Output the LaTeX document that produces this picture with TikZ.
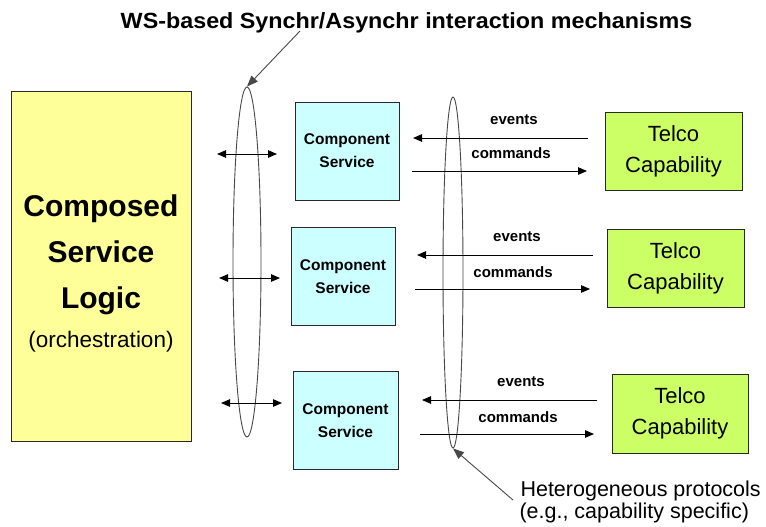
\documentclass[tikz,border=0pt]{standalone}
\usepackage{fontspec}
\setmainfont{Liberation Sans}
\usetikzlibrary{arrows.meta,shapes.geometric}
\definecolor{logicfill}{RGB}{255,255,153}
\definecolor{compfill}{RGB}{204,255,255}
\definecolor{telcofill}{RGB}{204,255,102}
\definecolor{edge}{RGB}{40,40,40}
\begin{document}
\begin{tikzpicture}[x=1pt,y=-1pt,
  box/.style={draw=edge,line width=1pt,inner sep=0pt,align=center},
  logicbox/.style={box,fill=logicfill,minimum width=180,minimum height=349},
  compbox/.style={box,fill=compfill,minimum width=104,minimum height=98,
    font=\fontsize{15.5}{23}\selectfont\bfseries},
  telcobox/.style={box,fill=telcofill,minimum width=137,minimum height=78,
    font=\fontsize{22}{32}\selectfont},
  ring/.style={draw=edge!85,line width=0.9pt,ellipse,inner sep=0pt},
  flow/.style={-{Triangle[length=9pt,width=7.5pt]},line width=0.9pt},
  both/.style={{Triangle[length=9pt,width=7.5pt]}-{Triangle[length=9pt,width=7.5pt]},line width=0.9pt},
  pointer/.style={-{Triangle[length=11pt,width=8.5pt]},draw=edge!85,line width=0.9pt},
  flowlabel/.style={font=\fontsize{15}{18}\selectfont\bfseries,anchor=center},
  biglabel/.style={font=\fontsize{30}{36}\selectfont\bfseries,anchor=base},
  note/.style={font=\fontsize{21.5}{22}\selectfont,anchor=base west}]
\useasboundingbox (0,0) rectangle (766,527);

% heading
\node[anchor=base,font=\fontsize{22}{26}\selectfont\bfseries] (heading) at (406.5,29)
  {\scalebox{1.06}[1]{WS-based Synchr/Asynchr interaction mechanisms}};

% orchestrating service
\node[logicbox] (logic) at (101,266.5) {};
\node[biglabel] (lt1) at (101,216) {Composed};
\node[biglabel] (lt2) at (101,262) {Service};
\node[biglabel] (lt3) at (101,308) {Logic};
\node[anchor=base,font=\fontsize{22.5}{26}\selectfont] (lt4) at (101,347) {(orchestration)};

% component services
\node[compbox] (comp1) at (347,151) {Component\\Service};
\node[compbox] (comp2) at (343,276.5) {Component\\Service};
\node[compbox,minimum width=105] (comp3) at (345.5,420.5) {Component\\Service};

% telco capabilities
\node[telcobox] (telco1) at (673.5,151) {\raisebox{-3pt}{Telco}\\\raisebox{-2pt}{Capability}};
\node[telcobox] (telco2) at (675.5,268) {\raisebox{-3pt}{Telco}\\\raisebox{-2pt}{Capability}};
\node[telcobox,minimum width=136,minimum height=79] (telco3) at (680,413.5) {\raisebox{-3pt}{Telco}\\\raisebox{-2pt}{Capability}};

% interaction rings
\node[ring,minimum width=28,minimum height=350] (wsring) at (247,262) {};
\node[ring,minimum width=20,minimum height=351] (protoring) at (453,272.5) {};

% WS interactions
\coordinate (ws1a) at (217,154); \coordinate (ws1b) at (277,154);
\coordinate (ws2a) at (219,278); \coordinate (ws2b) at (280,278);
\coordinate (ws3a) at (221,403); \coordinate (ws3b) at (282,403);
\draw[both] (ws1a) -- (ws1b);
\draw[both] (ws2a) -- (ws2b);
\draw[both] (ws3a) -- (ws3b);

% events and commands
\coordinate (ev1a) at (588,138); \coordinate (ev1b) at (413,138);
\coordinate (cm1a) at (412,171); \coordinate (cm1b) at (587,171);
\coordinate (ev2a) at (593,255); \coordinate (ev2b) at (417,255);
\coordinate (cm2a) at (415,289); \coordinate (cm2b) at (590,289);
\coordinate (ev3a) at (597,400); \coordinate (ev3b) at (422,400);
\coordinate (cm3a) at (420,434); \coordinate (cm3b) at (594,434);
\draw[flow] (ev1a) -- (ev1b);
\draw[flow] (cm1a) -- (cm1b);
\draw[flow] (ev2a) -- (ev2b);
\draw[flow] (cm2a) -- (cm2b);
\draw[flow] (ev3a) -- (ev3b);
\draw[flow] (cm3a) -- (cm3b);
\node[flowlabel] (evl1) at (514,120) {events};
\node[flowlabel] (cml1) at (511,153) {commands};
\node[flowlabel] (evl2) at (517,237) {events};
\node[flowlabel] (cml2) at (513,272) {commands};
\node[flowlabel] (evl3) at (521,382) {events};
\node[flowlabel] (cml3) at (518,417) {commands};

% annotations
\coordinate (headfoot) at (300,31);
\draw[pointer] (headfoot) -- (wsring.north);
\node[note] (proto1) at (517,496) {Heterogeneous protocols};
\node[note] (proto2) at (516,518) {(e.g., capability specific)};
\coordinate (notefoot) at (513,500);
\draw[pointer] (notefoot) -- (protoring.south);
\end{tikzpicture}
\end{document}
